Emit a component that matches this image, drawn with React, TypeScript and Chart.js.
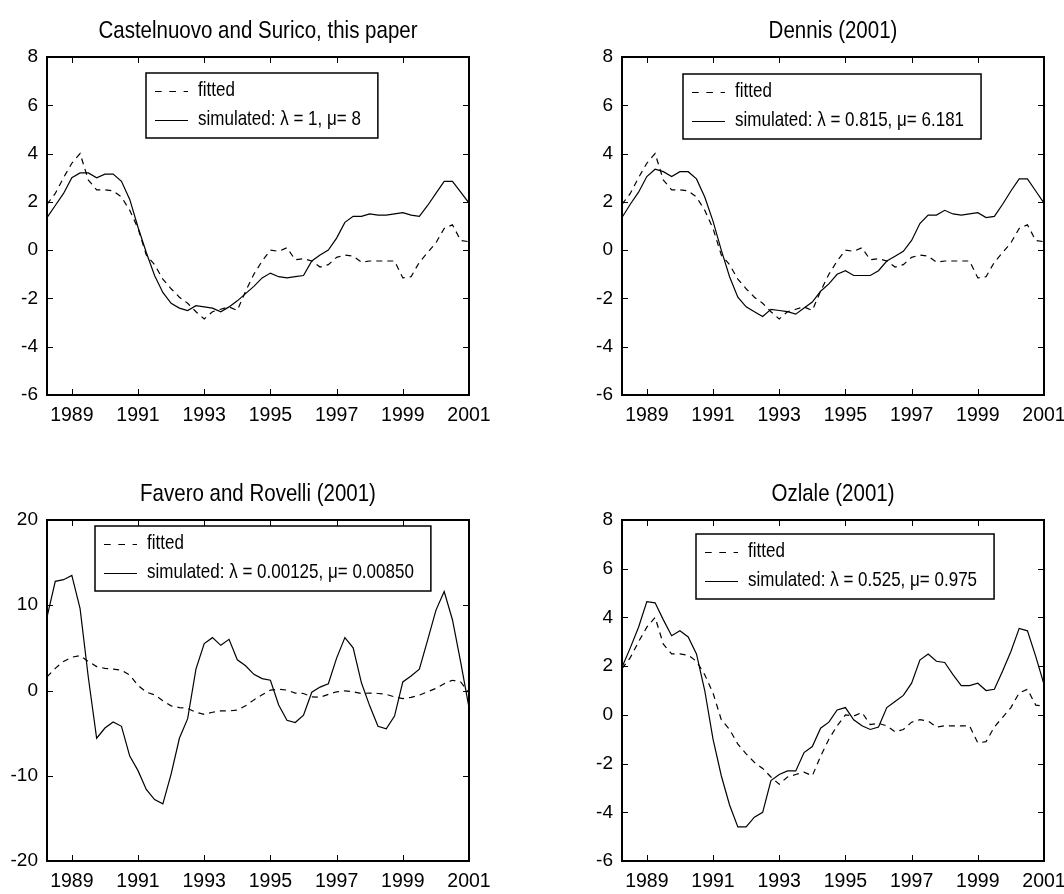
import React, { useEffect, useRef } from "react";
import { Chart, registerables } from "chart.js";

Chart.register(...registerables);

// ---------- data ----------
const QUARTERS = [
  1988.25, 1988.5, 1988.75,
  1989, 1989.25, 1989.5, 1989.75,
  1990, 1990.25, 1990.5, 1990.75,
  1991, 1991.25, 1991.5, 1991.75,
  1992, 1992.25, 1992.5, 1992.75,
  1993, 1993.25, 1993.5, 1993.75,
  1994, 1994.25, 1994.5, 1994.75,
  1995, 1995.25, 1995.5, 1995.75,
  1996, 1996.25, 1996.5, 1996.75,
  1997, 1997.25, 1997.5, 1997.75,
  1998, 1998.25, 1998.5, 1998.75,
  1999, 1999.25, 1999.5, 1999.75,
  2000, 2000.25, 2000.5, 2000.75,
  2001,
];

const YEAR_TICKS = [1989, 1991, 1993, 1995, 1997, 1999, 2001];
const Y_TICKS_SMALL = [-6, -4, -2, 0, 2, 4, 6, 8];
const Y_TICKS_LARGE = [-20, -10, 0, 10, 20];

const FITTED = [
  1.9, 2.35, 3.0, 3.6, 4.0, 2.9, 2.5, 2.5, 2.45, 2.2,
  1.65, 0.9, -0.2, -0.6, -1.2, -1.6, -1.95, -2.2, -2.55, -2.85,
  -2.55, -2.45, -2.35, -2.5, -1.7, -1.0, -0.45, 0.0, -0.05, 0.1,
  -0.4, -0.35, -0.45, -0.7, -0.6, -0.3, -0.2, -0.25, -0.5, -0.45,
  -0.45, -0.45, -0.45, -1.15, -1.1, -0.5, -0.1, 0.3, 0.9, 1.05,
  0.4, 0.35,
];

const FITTED_FR = [
  1.6, 2.6, 3.4, 3.9, 4.1, 3.4, 2.8, 2.6, 2.5, 2.4,
  1.8, 0.6, -0.2, -0.5, -1.2, -1.8, -2.0, -2.1, -2.55, -2.8,
  -2.55, -2.4, -2.4, -2.3, -1.8, -1.1, -0.5, 0.05, 0.15, 0.05,
  -0.3, -0.35, -0.75, -0.8, -0.45, -0.15, -0.05, -0.15, -0.35, -0.3,
  -0.35, -0.45, -0.75, -0.95, -0.8, -0.55, -0.15, 0.25, 0.8, 1.2,
  1.0, -0.3,
];

const SIM_CS = [
  1.35, 1.85, 2.35, 3.0, 3.2, 3.2, 3.0, 3.15, 3.15, 2.85,
  2.1, 0.95, -0.1, -1.05, -1.75, -2.2, -2.4, -2.5, -2.3, -2.35,
  -2.4, -2.55, -2.35, -2.1, -1.8, -1.5, -1.15, -0.95, -1.1, -1.15,
  -1.1, -1.05, -0.45, -0.2, 0.0, 0.5, 1.15, 1.4, 1.4, 1.5,
  1.45, 1.45, 1.5, 1.55, 1.45, 1.4, 1.85, 2.35, 2.85, 2.85,
  2.4, 1.95,
];

const SIM_DENNIS = [
  1.35, 1.9, 2.4, 3.05, 3.35, 3.25, 3.05, 3.25, 3.25, 2.95,
  2.2, 1.2, 0.0, -1.1, -1.95, -2.35, -2.55, -2.75, -2.45, -2.5,
  -2.55, -2.65, -2.4, -2.15, -1.7, -1.4, -1.0, -0.85, -1.05, -1.05,
  -1.05, -0.85, -0.45, -0.25, -0.05, 0.4, 1.1, 1.45, 1.45, 1.65,
  1.5, 1.45, 1.5, 1.55, 1.35, 1.4, 1.9, 2.45, 2.95, 2.95,
  2.45, 1.95,
];

const SIM_FR = [
  8.6, 12.8, 13.0, 13.5, 9.6, 1.5, -5.6, -4.4, -3.7, -4.2,
  -7.7, -9.4, -11.6, -12.8, -13.3, -9.8, -5.6, -3.3, 2.5, 5.5,
  6.2, 5.3, 6.0, 3.6, 2.9, 1.9, 1.4, 1.2, -1.7, -3.5,
  -3.75, -2.9, -0.2, 0.4, 0.8, 3.8, 6.2, 5.0, 0.9, -1.8,
  -4.2, -4.5, -3.0, 1.0, 1.7, 2.5, 5.9, 9.4, 11.6, 8.3,
  3.3, -2.0,
];

const SIM_OZ = [
  1.95, 2.75, 3.6, 4.65, 4.6, 3.9, 3.25, 3.45, 3.2, 2.5,
  1.0, -1.0, -2.5, -3.7, -4.6, -4.6, -4.2, -4.0, -2.7, -2.45,
  -2.3, -2.3, -1.55, -1.3, -0.55, -0.3, 0.2, 0.3, -0.2, -0.45,
  -0.6, -0.5, 0.3, 0.55, 0.8, 1.3, 2.25, 2.5, 2.2, 2.15,
  1.65, 1.2, 1.2, 1.3, 1.0, 1.05, 1.8, 2.6, 3.55, 3.45,
  2.4, 1.25,
];

const TITLES = [
  "Castelnuovo and Surico, this paper",
  "Dennis (2001)",
  "Favero and Rovelli (2001)",
  "Ozlale (2001)",
];

const FITTED_LABEL = "fitted";
const SIM_LABELS = [
  "simulated: \u03bb = 1, \u03bc= 8",
  "simulated: \u03bb = 0.815, \u03bc= 6.181",
  "simulated: \u03bb = 0.00125, \u03bc= 0.00850",
  "simulated: \u03bb = 0.525, \u03bc= 0.975",
];

// ---------- layout / style ----------
const FONT = "'Liberation Sans', Arial, Helvetica, sans-serif";
const CW = 532;
const CH = 447;

type PanelCfg = {
  left: number;
  top: number;
  area: { left: number; top: number; right: number; bottom: number };
  yMin: number;
  yMax: number;
  yTicks: number[];
  fitted: number[];
  sim: number[];
  title: string;
  simLabel: string;
  legendDx: number;
  legendDy: number;
};

const PANELS: PanelCfg[] = [
  {
    left: 0, top: 0,
    area: { left: 47, top: 57, right: 469, bottom: 395 },
    yMin: -6, yMax: 8, yTicks: Y_TICKS_SMALL,
    fitted: FITTED, sim: SIM_CS, title: TITLES[0], simLabel: SIM_LABELS[0],
    legendDx: 99, legendDy: 16,
  },
  {
    left: 532, top: 0,
    area: { left: 90, top: 57, right: 512, bottom: 395 },
    yMin: -6, yMax: 8, yTicks: Y_TICKS_SMALL,
    fitted: FITTED, sim: SIM_DENNIS, title: TITLES[1], simLabel: SIM_LABELS[1],
    legendDx: 61, legendDy: 17,
  },
  {
    left: 0, top: 447,
    area: { left: 47, top: 73, right: 469, bottom: 414 },
    yMin: -20, yMax: 20, yTicks: Y_TICKS_LARGE,
    fitted: FITTED_FR, sim: SIM_FR, title: TITLES[2], simLabel: SIM_LABELS[2],
    legendDx: 48, legendDy: 6,
  },
  {
    left: 532, top: 447,
    area: { left: 90, top: 73, right: 512, bottom: 414 },
    yMin: -6, yMax: 8, yTicks: Y_TICKS_SMALL,
    fitted: FITTED, sim: SIM_OZ, title: TITLES[3], simLabel: SIM_LABELS[3],
    legendDx: 74, legendDy: 14,
  },
];

const TICK_LEN = 6;

const matlabPlugin = {
  id: "matlab",
  afterDatasetsDraw(chart: any, _args: any, opts: any) {
    const { ctx, chartArea: a, scales } = chart;
    const xs = scales.x;
    const ys = scales.y;
    ctx.save();
    ctx.strokeStyle = "#000";
    ctx.fillStyle = "#000";
    ctx.setLineDash([]);

    // inward ticks on all four sides
    ctx.lineWidth = 1;
    ctx.beginPath();
    for (const v of opts.xTicks) {
      const px = Math.round(xs.getPixelForValue(v)) + 0.5;
      ctx.moveTo(px, a.top);
      ctx.lineTo(px, a.top + TICK_LEN);
      ctx.moveTo(px, a.bottom);
      ctx.lineTo(px, a.bottom - TICK_LEN);
    }
    for (const v of opts.yTicks) {
      const py = Math.round(ys.getPixelForValue(v)) + 0.5;
      ctx.moveTo(a.left, py);
      ctx.lineTo(a.left + TICK_LEN, py);
      ctx.moveTo(a.right, py);
      ctx.lineTo(a.right - TICK_LEN, py);
    }
    ctx.stroke();

    // frame
    ctx.lineWidth = 2;
    ctx.strokeRect(a.left, a.top, a.right - a.left, a.bottom - a.top);

    // title (slightly tall, like the original raster)
    ctx.font = `20.5px ${FONT}`;
    ctx.textAlign = "center";
    ctx.textBaseline = "alphabetic";
    ctx.save();
    ctx.translate((a.left + a.right) / 2, a.top - 19);
    ctx.scale(1, 1.2);
    ctx.fillText(opts.title, 0, 0);
    ctx.restore();

    // legend box
    ctx.font = `17px ${FONT}`;
    const datasets = chart.data.datasets;
    let maxW = 0;
    for (const ds of datasets) maxW = Math.max(maxW, ctx.measureText(ds.label).width);
    const bx = a.left + opts.legendDx;
    const by = a.top + opts.legendDy;
    const bw = 52 + maxW + 17;
    const bh = 65;
    ctx.fillStyle = "#fff";
    ctx.fillRect(bx, by, bw, bh);
    ctx.lineWidth = 1.5;
    ctx.strokeRect(bx, by, bw, bh);
    ctx.fillStyle = "#000";
    ctx.textAlign = "left";
    ctx.textBaseline = "middle";
    datasets.forEach((ds: any, i: number) => {
      const y = by + 18 + i * 28.5;
      ctx.lineWidth = 1.2;
      ctx.setLineDash(ds.borderDash && ds.borderDash.length ? [6.7, 7.6] : []);
      ctx.beginPath();
      ctx.moveTo(bx + 9, Math.round(y) + 0.5);
      ctx.lineTo(bx + 42, Math.round(y) + 0.5);
      ctx.stroke();
      ctx.setLineDash([]);
      ctx.save();
      ctx.translate(bx + 52, y);
      ctx.scale(1, 1.15);
      ctx.fillText(ds.label, 0, 0);
      ctx.restore();
    });
    ctx.restore();
  },
};

function Panel({ cfg }: { cfg: PanelCfg }) {
  const ref = useRef<HTMLCanvasElement>(null);
  useEffect(() => {
    const canvas = ref.current;
    if (!canvas) return;
    const a = cfg.area;
    const chart = new Chart(canvas, {
      type: "line",
      data: {
        datasets: [
          {
            label: FITTED_LABEL,
            data: QUARTERS.map((x, i) => ({ x, y: cfg.fitted[i] })),
            borderColor: "#000",
            borderWidth: 1.2,
            borderDash: [6, 5],
            pointRadius: 0,
            tension: 0,
            fill: false,
          },
          {
            label: cfg.simLabel,
            data: QUARTERS.map((x, i) => ({ x, y: cfg.sim[i] })),
            borderColor: "#000",
            borderWidth: 1.2,
            pointRadius: 0,
            tension: 0,
            fill: false,
          },
        ],
      },
      options: {
        animation: false,
        responsive: false,
        maintainAspectRatio: false,
        events: [],
        layout: {
          padding: { left: 0, top: a.top, right: CW - a.right, bottom: 0 },
        },
        plugins: {
          legend: { display: false },
          title: { display: false },
          tooltip: { enabled: false },
          // @ts-ignore
          matlab: {
            xTicks: YEAR_TICKS,
            yTicks: cfg.yTicks,
            title: cfg.title,
            legendDx: cfg.legendDx,
            legendDy: cfg.legendDy,
          },
        },
        scales: {
          x: {
            type: "linear",
            bounds: "data",
            min: QUARTERS[0],
            max: QUARTERS[QUARTERS.length - 1],
            afterBuildTicks: (s: any) => {
              s.ticks = YEAR_TICKS.map((v) => ({ value: v }));
            },
            afterFit: (s: any) => {
              s.height = CH - a.bottom;
              s.paddingLeft = 0;
              s.paddingRight = 0;
            },
            grid: { display: false, drawTicks: false },
            border: { display: false },
            ticks: {
              padding: 9,
              autoSkip: false,
              maxRotation: 0,
              color: "#000",
              font: { family: FONT, size: 19.5 },
              callback: (v: any) => String(v),
            },
          },
          y: {
            type: "linear",
            bounds: "data",
            min: cfg.yMin,
            max: cfg.yMax,
            afterBuildTicks: (s: any) => {
              s.ticks = cfg.yTicks.map((v) => ({ value: v }));
            },
            afterFit: (s: any) => {
              s.width = a.left;
              s.paddingTop = 0;
              s.paddingBottom = 0;
            },
            grid: { display: false, drawTicks: false },
            border: { display: false },
            ticks: {
              padding: 9,
              autoSkip: false,
              color: "#000",
              font: { family: FONT, size: 19 },
              callback: (v: any) => String(v),
            },
          },
        },
      },
      plugins: [matlabPlugin],
    } as any);
    return () => chart.destroy();
  }, [cfg]);
  return (
    <canvas
      ref={ref}
      width={CW}
      height={CH}
      style={{ position: "absolute", left: cfg.left, top: cfg.top, width: CW, height: CH }}
    />
  );
}

export default function App() {
  return (
    <div
      style={{
        position: "absolute",
        left: 0,
        top: 0,
        width: 1064,
        height: 894,
        background: "#fff",
        overflow: "hidden",
      }}
    >
      {PANELS.map((p, i) => (
        <Panel key={i} cfg={p} />
      ))}
    </div>
  );
}
